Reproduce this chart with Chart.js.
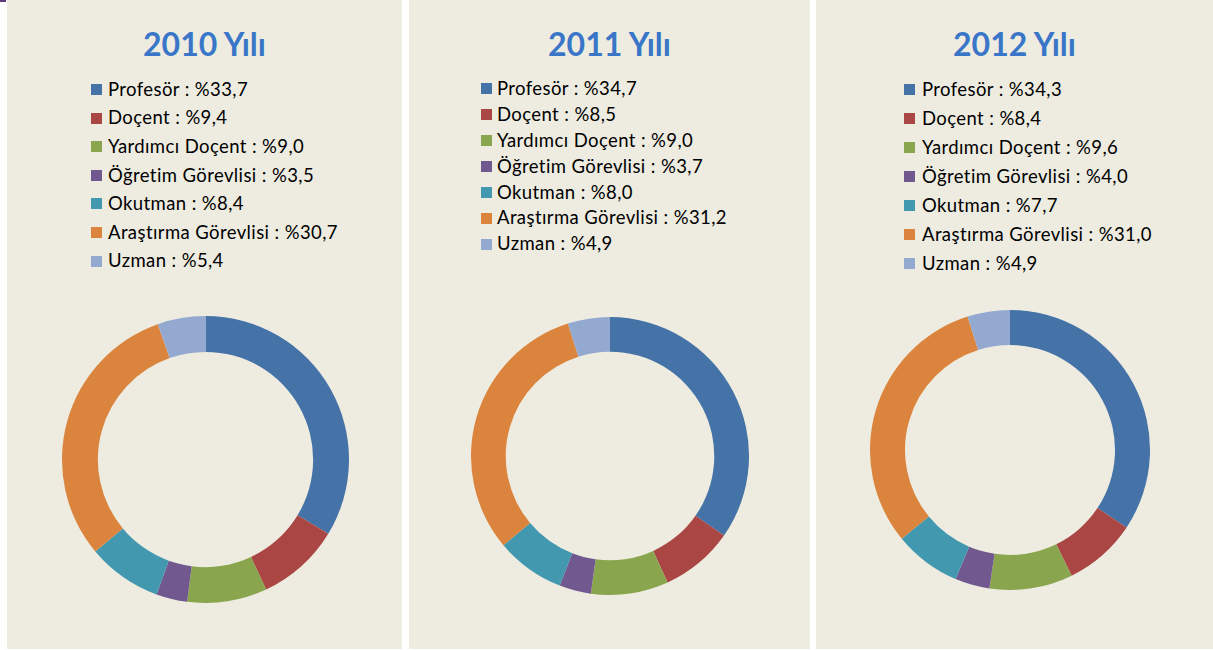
<!DOCTYPE html>
<html>
<head>
<meta charset="utf-8">
<script src="https://cdn.jsdelivr.net/npm/chart.js@4/dist/chart.umd.min.js"></script>
<style>
  html, body { margin: 0; padding: 0; background: #ffffff; }
  body { width: 1213px; height: 650px; position: relative; overflow: hidden; font-family: Lato, "Open Sans", sans-serif; }
  .panel { position: absolute; top: 0; height: 649px; background: #EEECE1; }
  .title { position: absolute; top: 24px; font: bold 32px Lato, sans-serif; color: #3A76C8; text-align: center; white-space: nowrap; line-height: normal; }
  .row { position: absolute; font: 18.5px Lato, sans-serif; letter-spacing: 0.4px; color: #000; white-space: nowrap; line-height: normal; }
  .mk { position: absolute; width: 11px; height: 11px; }
  canvas { position: absolute; }
  .corner { position: absolute; left: 0; top: 0; width: 6px; height: 2px; background: #5B3A7C; }
</style>
</head>
<body>
<div class="corner"></div>
<script>
// ---- data ----
const categories = ["Profesör", "Doçent", "Yardımcı Doçent", "Öğretim Görevlisi", "Okutman", "Araştırma Görevlisi", "Uzman"];
const years = ["2010 Yılı", "2011 Yılı", "2012 Yılı"];
const values2010 = [33.7, 9.4, 9.0, 3.5, 8.4, 30.7, 5.4];
const values2011 = [34.7, 8.5, 9.0, 3.7, 8.0, 31.2, 4.9];
const values2012 = [34.3, 8.4, 9.6, 4.0, 7.7, 31.0, 4.9];
const colors = ["#4572A7", "#AA4643", "#89A54E", "#71588F", "#4198AF", "#DB843D", "#93A9CF"];

// ---- layout (positions only) ----
const panels = [
  { x: 7,   w: 395, values: values2010, mkX: 91,  txtX: 108, rowTop: 84, rowGap: 28.6,  box: { l: 62,  t: 316, s: 287 } },
  { x: 409, w: 401, values: values2011, mkX: 481, txtX: 497, rowTop: 83, rowGap: 25.95, box: { l: 471, t: 317, s: 278 } },
  { x: 816, w: 397, values: values2012, mkX: 904, txtX: 922, rowTop: 84, rowGap: 29.05, box: { l: 870, t: 310, s: 280 } }
];

function fmt(v) { return "%" + v.toFixed(1).replace(".", ","); }

panels.forEach((p, i) => {
  const pan = document.createElement("div");
  pan.className = "panel";
  pan.style.left = p.x + "px";
  pan.style.width = p.w + "px";
  document.body.appendChild(pan);

  const t = document.createElement("div");
  t.className = "title";
  t.style.left = p.x + "px";
  t.style.width = p.w + "px";
  t.textContent = years[i];
  document.body.appendChild(t);

  categories.forEach((c, k) => {
    const top = p.rowTop + k * p.rowGap;
    const m = document.createElement("div");
    m.className = "mk";
    m.style.left = p.mkX + "px";
    m.style.top = top + "px";
    m.style.background = colors[k];
    document.body.appendChild(m);
    const r = document.createElement("div");
    r.className = "row";
    r.style.left = p.txtX + "px";
    r.style.top = (top - 6.3) + "px";
    r.textContent = c + " : " + fmt(p.values[k]);
    document.body.appendChild(r);
  });

  const cv = document.createElement("canvas");
  cv.width = p.box.s; cv.height = p.box.s;
  cv.style.left = p.box.l + "px";
  cv.style.top = p.box.t + "px";
  cv.style.width = p.box.s + "px";
  cv.style.height = p.box.s + "px";
  document.body.appendChild(cv);

  new Chart(cv, {
    type: "doughnut",
    data: {
      labels: categories,
      datasets: [{
        data: p.values,
        backgroundColor: colors,
        borderWidth: 0,
        hoverOffset: 0,
        offset: 0
      }]
    },
    options: {
      responsive: false,
      animation: false,
      cutout: "75%",
      layout: { padding: 0 },
      plugins: { legend: { display: false }, tooltip: { enabled: false }, title: { display: false } }
    }
  });
});
</script>
</body>
</html>
